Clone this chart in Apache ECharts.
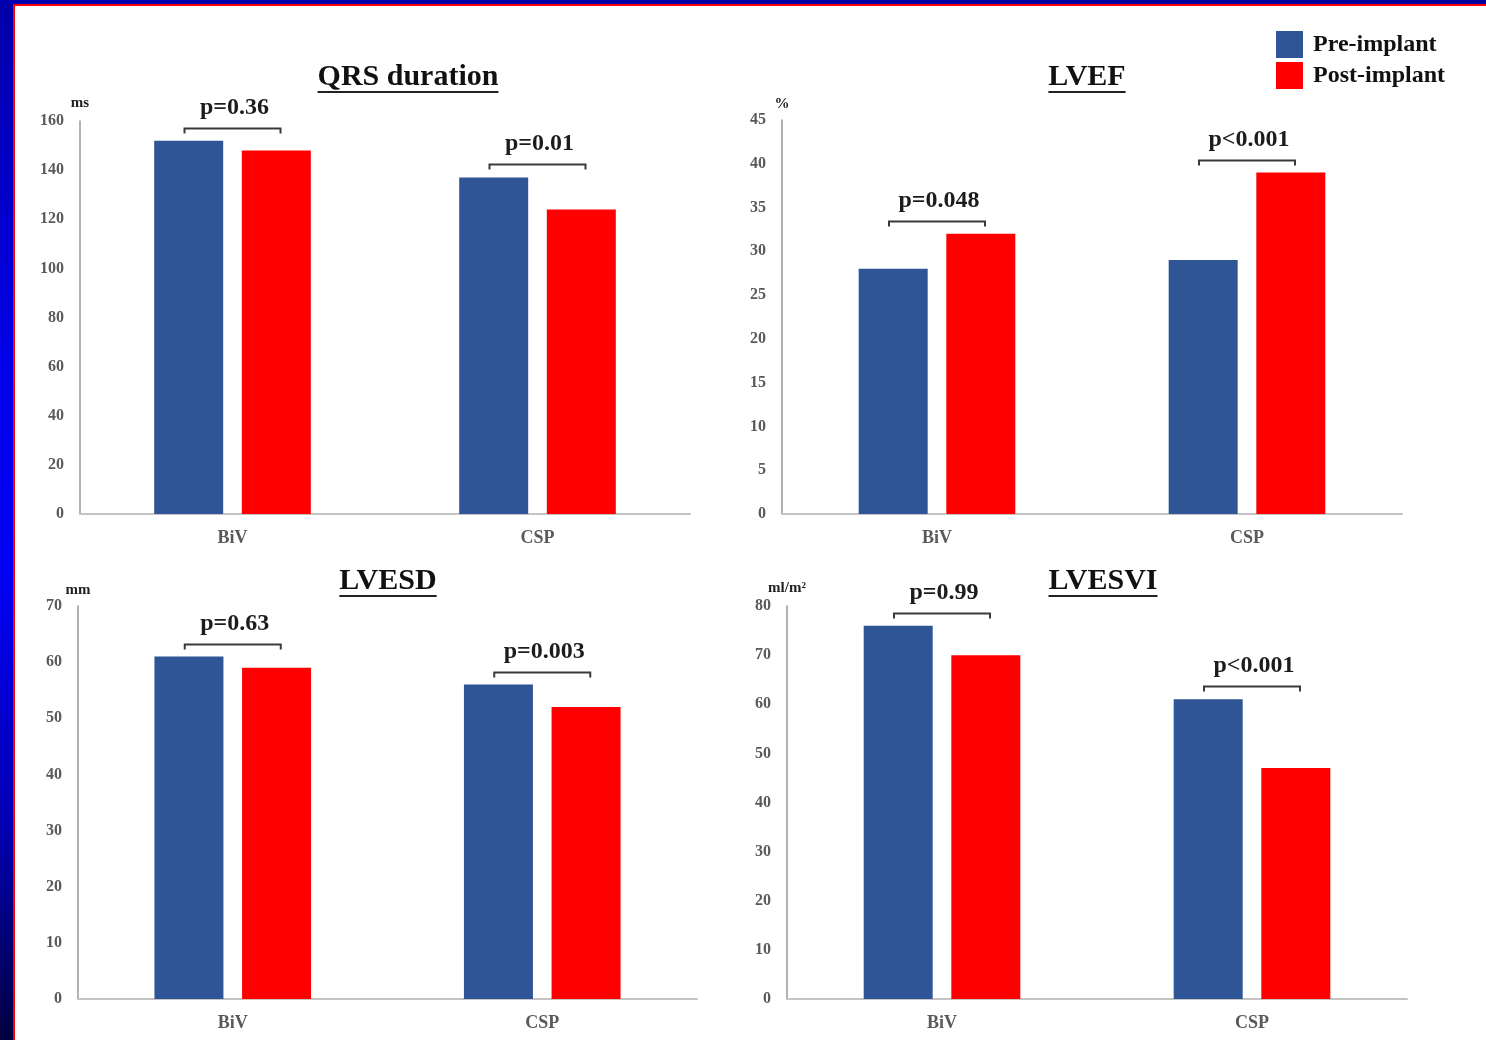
<!DOCTYPE html>
<html>
<head>
<meta charset="utf-8">
<script src="https://cdn.jsdelivr.net/npm/echarts@6/dist/echarts.min.js"></script>
<style>
  html, body { margin: 0; padding: 0; width: 1486px; height: 1040px; overflow: hidden; background: #fff; }
  #frameLeft { position: absolute; left: 0; top: 0; width: 13px; height: 1040px;
    background: linear-gradient(to bottom, #0000a8 0%, #0000e8 35%, #0000f4 55%, #0000b0 80%, #000040 100%); }
  #frameTop { position: absolute; left: 0; top: 0; width: 1486px; height: 4px;
    background: linear-gradient(to right, #0000b0, #00009a); }
  #redTop { position: absolute; left: 13px; top: 4px; width: 1473px; height: 2px; background: #ff0000; }
  #redLeft { position: absolute; left: 13px; top: 4px; width: 2px; height: 1036px; background: #ff0000; }
  #chart { position: absolute; left: 0; top: 0; width: 1486px; height: 1040px; }
</style>
</head>
<body>
<div id="frameLeft"></div>
<div id="frameTop"></div>
<div id="redTop"></div>
<div id="redLeft"></div>
<div id="chart"></div>
<script>
// Device groups
const categories = ['BiV', 'CSP'];

// QRS duration (ms)
const qrsPre = [152, 137];
const qrsPost = [148, 124];
const qrsP = ['p=0.36', 'p=0.01'];

// LVEF (%)
const lvefPre = [28, 29];
const lvefPost = [32, 39];
const lvefP = ['p=0.048', 'p<0.001'];

// LVESD (mm)
const lvesdPre = [61, 56];
const lvesdPost = [59, 52];
const lvesdP = ['p=0.63', 'p=0.003'];

// LVESVI (ml/m²)
const lvesviPre = [76, 61];
const lvesviPost = [70, 47];
const lvesviP = ['p=0.99', 'p<0.001'];

// Axis ranges
const qrsAxis = { max: 160, interval: 20, unit: 'ms' };
const lvefAxis = { max: 45, interval: 5, unit: '%' };
const lvesdAxis = { max: 70, interval: 10, unit: 'mm' };
const lvesviAxis = { max: 80, interval: 10, unit: 'ml/m²' };

const SERIF = '"Liberation Serif", "Times New Roman", serif';
const BLUE = '#2F5597';
const RED = '#FF0000';

const panels = [
  { title: 'QRS duration', pre: qrsPre, post: qrsPost, p: qrsP, axis: qrsAxis,
    grid: { left: 80, top: 121, width: 610, height: 393 }, titleX: 408, titleY: 78, nameGap: 10 },
  { title: 'LVEF', pre: lvefPre, post: lvefPost, p: lvefP, axis: lvefAxis,
    grid: { left: 782, top: 120, width: 620, height: 394 }, titleX: 1087, titleY: 78, nameGap: 8 },
  { title: 'LVESD', pre: lvesdPre, post: lvesdPost, p: lvesdP, axis: lvesdAxis,
    grid: { left: 78, top: 606, width: 619, height: 393 }, titleX: 388, titleY: 582, nameGap: 7 },
  { title: 'LVESVI', pre: lvesviPre, post: lvesviPost, p: lvesviP, axis: lvesviAxis,
    grid: { left: 787, top: 606, width: 620, height: 393 }, titleX: 1103, titleY: 582, nameGap: 10 }
];

// measure text to size the title underlines
const measureCtx = document.createElement('canvas').getContext('2d');
function textWidth(str, font) { measureCtx.font = font; return measureCtx.measureText(str).width; }

const grids = [], xAxes = [], yAxes = [], series = [], graphics = [];

panels.forEach((pn, i) => {
  grids.push(Object.assign({ containLabel: false }, pn.grid));
  xAxes.push({
    type: 'category', gridIndex: i, data: categories,
    axisLine: { lineStyle: { color: '#c4c4c4', width: 2 } },
    axisTick: { show: false },
    axisLabel: { color: '#5a5a5a', fontSize: 18, fontWeight: 'bold', fontFamily: SERIF, margin: 15 }
  });
  yAxes.push({
    type: 'value', gridIndex: i, min: 0, max: pn.axis.max, interval: pn.axis.interval,
    name: pn.axis.unit, nameLocation: 'end', nameGap: pn.nameGap,
    nameTextStyle: { color: '#222', fontSize: 15, fontWeight: 'bold', fontFamily: SERIF, align: 'center' },
    axisLine: { show: true, lineStyle: { color: '#9a9a9a', width: 1.5 } },
    axisTick: { show: false },
    splitLine: { show: false },
    axisLabel: { color: '#5a5a5a', fontSize: 16, fontWeight: 'bold', fontFamily: SERIF, margin: 16 }
  });
  series.push({
    name: 'Pre-implant', type: 'bar', xAxisIndex: i, yAxisIndex: i, data: pn.pre,
    barWidth: 69, barGap: '27%', itemStyle: { color: BLUE }, silent: true
  });
  series.push({
    name: 'Post-implant', type: 'bar', xAxisIndex: i, yAxisIndex: i, data: pn.post,
    barWidth: 69, barGap: '27%', itemStyle: { color: RED }, silent: true
  });
  // significance brackets above each pair of bars
  const tops = categories.map((c, k) => [k, Math.max(pn.pre[k], pn.post[k])]);
  const labels = pn.p;
  series.push({
    type: 'custom', xAxisIndex: i, yAxisIndex: i, data: tops, silent: true, z: 5,
    renderItem: function (params, api) {
      const pt = api.coord([api.value(0), api.value(1)]);
      const half = 48;
      const y = Math.round(pt[1] - 13) + 0.5;
      return {
        type: 'group',
        children: [
          { type: 'polyline',
            shape: { points: [[pt[0] - half, y + 5], [pt[0] - half, y], [pt[0] + half, y], [pt[0] + half, y + 5]] },
            style: { stroke: '#3a3a3a', lineWidth: 2, fill: null } },
          { type: 'text',
            style: { text: labels[params.dataIndex], x: pt[0] + 2, y: y - 21, align: 'center', verticalAlign: 'middle',
                     font: 'bold 24px ' + SERIF, fill: '#1c1c1c' } }
        ]
      };
    }
  });
  // underlined panel title
  const tFont = 'bold 30px ' + SERIF;
  const w = textWidth(pn.title, tFont);
  graphics.push({
    type: 'text', left: pn.titleX - w / 2, top: pn.titleY - 16,
    style: { text: pn.title, font: tFont, fill: '#111' }
  });
  graphics.push({
    type: 'rect', left: pn.titleX - w / 2, top: pn.titleY + 13,
    shape: { width: w, height: 2 }, style: { fill: '#222' }
  });
});

const chart = echarts.init(document.getElementById('chart'), null, { renderer: 'canvas' });
chart.setOption({
  backgroundColor: 'transparent',
  animation: false,
  legend: {
    data: ['Pre-implant', 'Post-implant'],
    orient: 'vertical', left: 1276, top: 31, padding: 0,
    itemWidth: 27, itemHeight: 27, itemGap: 4, icon: 'rect',
    textStyle: { fontSize: 24, fontWeight: 'bold', fontFamily: SERIF, color: '#111', padding: [0, 0, 0, 5] },
    selectedMode: false
  },
  grid: grids,
  xAxis: xAxes,
  yAxis: yAxes,
  series: series,
  graphic: graphics
});
</script>
</body>
</html>
